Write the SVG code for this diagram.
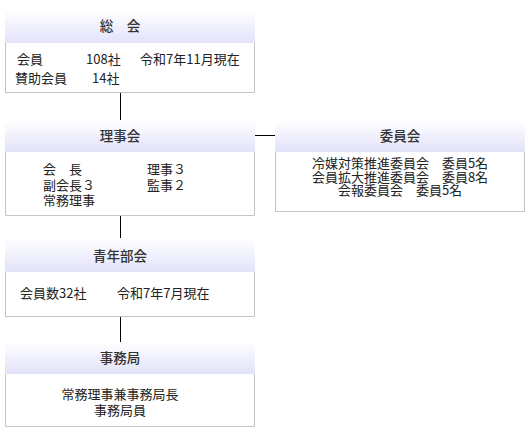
<svg xmlns="http://www.w3.org/2000/svg" width="530" height="448" viewBox="0 0 530 448">
<defs>
<linearGradient id="hg" x1="0" y1="0" x2="0" y2="1">
<stop offset="0" stop-color="#ffffff"/>
<stop offset="1" stop-color="#e2e2fa"/>
</linearGradient>
<style>
.hd{fill:url(#hg);}
.bd{fill:#ffffff;stroke:#c4c4c4;stroke-width:1;}
.t{font-family:"Noto Sans CJK JP","Noto Sans",sans-serif;font-size:13.5px;font-weight:500;fill:#333333;text-anchor:middle;}
.b{font-family:"Noto Sans CJK JP","Noto Sans",sans-serif;font-size:13px;fill:#222222;}
.c{text-anchor:middle;}
.ln{stroke:#000000;stroke-width:1;fill:none;}
</style>
</defs>
<rect width="530" height="448" fill="#ffffff"/>
<g id="connectors">
<line class="ln" x1="120.5" y1="93" x2="120.5" y2="120"/>
<line class="ln" x1="255" y1="135.5" x2="275" y2="135.5"/>
<line class="ln" x1="120.5" y1="216" x2="120.5" y2="238"/>
<line class="ln" x1="120.5" y1="317" x2="120.5" y2="342"/>
</g>
<g id="soukai">
<rect class="hd" x="5" y="10" width="250" height="33"/>
<path class="bd" d="M5.5,43 V92.5 H254.5 V43"/>
<text class="t" x="120" y="31">総　会</text>
<text class="b" x="17" y="64">会員</text>
<text class="b" x="86" y="64">108社</text>
<text class="b" x="140" y="64">令和7年11月現在</text>
<text class="b" x="15" y="83">賛助会員</text>
<text class="b" x="92" y="83">14社</text>
</g>
<g id="rijikai">
<rect class="hd" x="5" y="120" width="250" height="32"/>
<path class="bd" d="M5.5,152 V215.5 H254.5 V152"/>
<text class="t" x="120" y="141">理事会</text>
<text class="b" x="43" y="174">会　長</text>
<text class="b" x="43" y="190">副会長３</text>
<text class="b" x="43" y="205">常務理事</text>
<text class="b" x="147" y="174">理事３</text>
<text class="b" x="147" y="190">監事２</text>
</g>
<g id="iinkai">
<rect class="hd" x="275" y="120" width="250" height="32"/>
<path class="bd" d="M275.5,152 V211.5 H524.5 V152"/>
<text class="t" x="400" y="141">委員会</text>
<text class="b c" x="400" y="168">冷媒対策推進委員会　委員5名</text>
<text class="b c" x="400" y="182">会員拡大推進委員会　委員8名</text>
<text class="b c" x="400" y="195">会報委員会　委員5名</text>
</g>
<g id="seinenbukai">
<rect class="hd" x="5" y="238" width="250" height="34"/>
<path class="bd" d="M5.5,272 V316.5 H254.5 V272"/>
<text class="t" x="120" y="261">青年部会</text>
<text class="b" x="20" y="298">会員数32社</text>
<text class="b" x="117" y="298">令和7年7月現在</text>
</g>
<g id="jimukyoku">
<rect class="hd" x="5" y="342" width="250" height="32"/>
<path class="bd" d="M5.5,374 V426.5 H254.5 V374"/>
<text class="t" x="120" y="363">事務局</text>
<text class="b c" x="120" y="399">常務理事兼事務局長</text>
<text class="b c" x="120" y="415">事務局員</text>
</g>
</svg>
